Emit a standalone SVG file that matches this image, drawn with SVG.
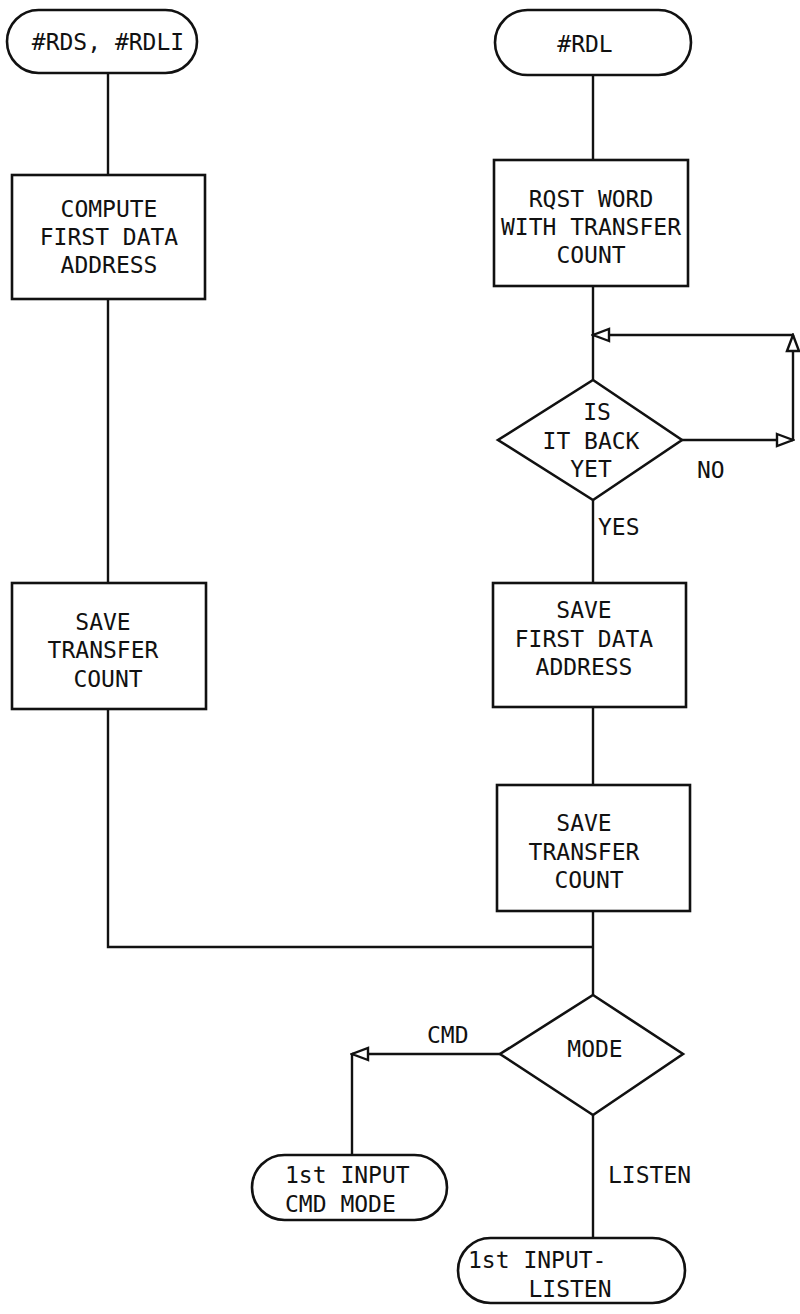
<svg xmlns="http://www.w3.org/2000/svg" width="800" height="1314" viewBox="0 0 800 1314">
<style>
.s{fill:#fff;stroke:#111;stroke-width:2.6}
.c{fill:none;stroke:#111;stroke-width:2.4}
text{font-family:"DejaVu Sans Mono","Liberation Mono",monospace;font-size:23px;fill:#111}
.m{text-anchor:middle}
</style>
<defs>
<marker id="oa" viewBox="0 0 20 16" refX="18" refY="8" markerWidth="20" markerHeight="16" markerUnits="userSpaceOnUse" orient="auto">
<path d="M2,2 L18,8 L2,14 Z" fill="#fff" stroke="#111" stroke-width="2.4"/>
</marker>
</defs>
<rect width="800" height="1314" fill="#fff"/>
<g id="connectors">
<line class="c" x1="108" y1="73" x2="108" y2="175"/>
<line class="c" x1="108" y1="299" x2="108" y2="583"/>
<polyline class="c" points="108,709 108,947 593,947"/>
<line class="c" x1="593" y1="75" x2="593" y2="160"/>
<line class="c" x1="593" y1="286" x2="593" y2="380"/>
<line class="c" x1="682" y1="440" x2="793" y2="440" marker-end="url(#oa)"/>
<line class="c" x1="793" y1="440" x2="793" y2="335" marker-end="url(#oa)"/>
<line class="c" x1="793" y1="335" x2="593" y2="335" marker-end="url(#oa)"/>
<line class="c" x1="593" y1="500" x2="593" y2="583"/>
<line class="c" x1="593" y1="707" x2="593" y2="785"/>
<line class="c" x1="593" y1="911" x2="593" y2="995"/>
<line class="c" x1="500" y1="1054" x2="352" y2="1054" marker-end="url(#oa)"/>
<line class="c" x1="352" y1="1054" x2="352" y2="1155"/>
<line class="c" x1="593" y1="1115" x2="593" y2="1238"/>
<text x="697" y="478">NO</text>
<text x="598" y="535">YES</text>
<text x="427" y="1043">CMD</text>
<text x="608" y="1183">LISTEN</text>
</g>
<g id="start-rds">
<rect class="s" x="7" y="10" width="190" height="63" rx="31.5"/>
<text class="m" x="108" y="50">#RDS, #RDLI</text>
</g>
<g id="start-rdl">
<rect class="s" x="495" y="10" width="196" height="65" rx="32.5"/>
<text class="m" x="585" y="52">#RDL</text>
</g>
<g id="compute">
<rect class="s" x="12" y="175" width="193" height="124"/>
<text class="m" x="109" y="217">COMPUTE</text>
<text class="m" x="109" y="245">FIRST DATA</text>
<text class="m" x="109" y="273">ADDRESS</text>
</g>
<g id="rqst">
<rect class="s" x="494" y="160" width="194" height="126"/>
<text class="m" x="591" y="207">RQST WORD</text>
<text class="m" x="591" y="235">WITH TRANSFER</text>
<text class="m" x="591" y="263">COUNT</text>
</g>
<g id="is-back">
<polygon class="s" points="593,380 682,440 593,500 498,440"/>
<text class="m" x="597" y="420">IS</text>
<text class="m" x="591" y="449">IT BACK</text>
<text class="m" x="591" y="477">YET</text>
</g>
<g id="save-count-left">
<rect class="s" x="12" y="583" width="194" height="126"/>
<text class="m" x="103" y="630">SAVE</text>
<text class="m" x="103" y="658">TRANSFER</text>
<text class="m" x="108" y="687">COUNT</text>
</g>
<g id="save-addr">
<rect class="s" x="493" y="583" width="193" height="124"/>
<text class="m" x="584" y="618">SAVE</text>
<text class="m" x="584" y="647">FIRST DATA</text>
<text class="m" x="584" y="675">ADDRESS</text>
</g>
<g id="save-count-right">
<rect class="s" x="497" y="785" width="193" height="126"/>
<text class="m" x="584" y="831">SAVE</text>
<text class="m" x="584" y="860">TRANSFER</text>
<text class="m" x="589" y="888">COUNT</text>
</g>
<g id="mode">
<polygon class="s" points="593,995 683,1054 593,1115 500,1054"/>
<text class="m" x="595" y="1057">MODE</text>
</g>
<g id="cmd-mode">
<rect class="s" x="252" y="1155" width="195" height="65" rx="32.5"/>
<text x="285" y="1183">1st INPUT</text>
<text x="285" y="1212">CMD MODE</text>
</g>
<g id="listen">
<rect class="s" x="458" y="1238" width="227" height="65" rx="32.5"/>
<text x="468" y="1268">1st INPUT-</text>
<text class="m" x="570" y="1297">LISTEN</text>
</g>
</svg>
